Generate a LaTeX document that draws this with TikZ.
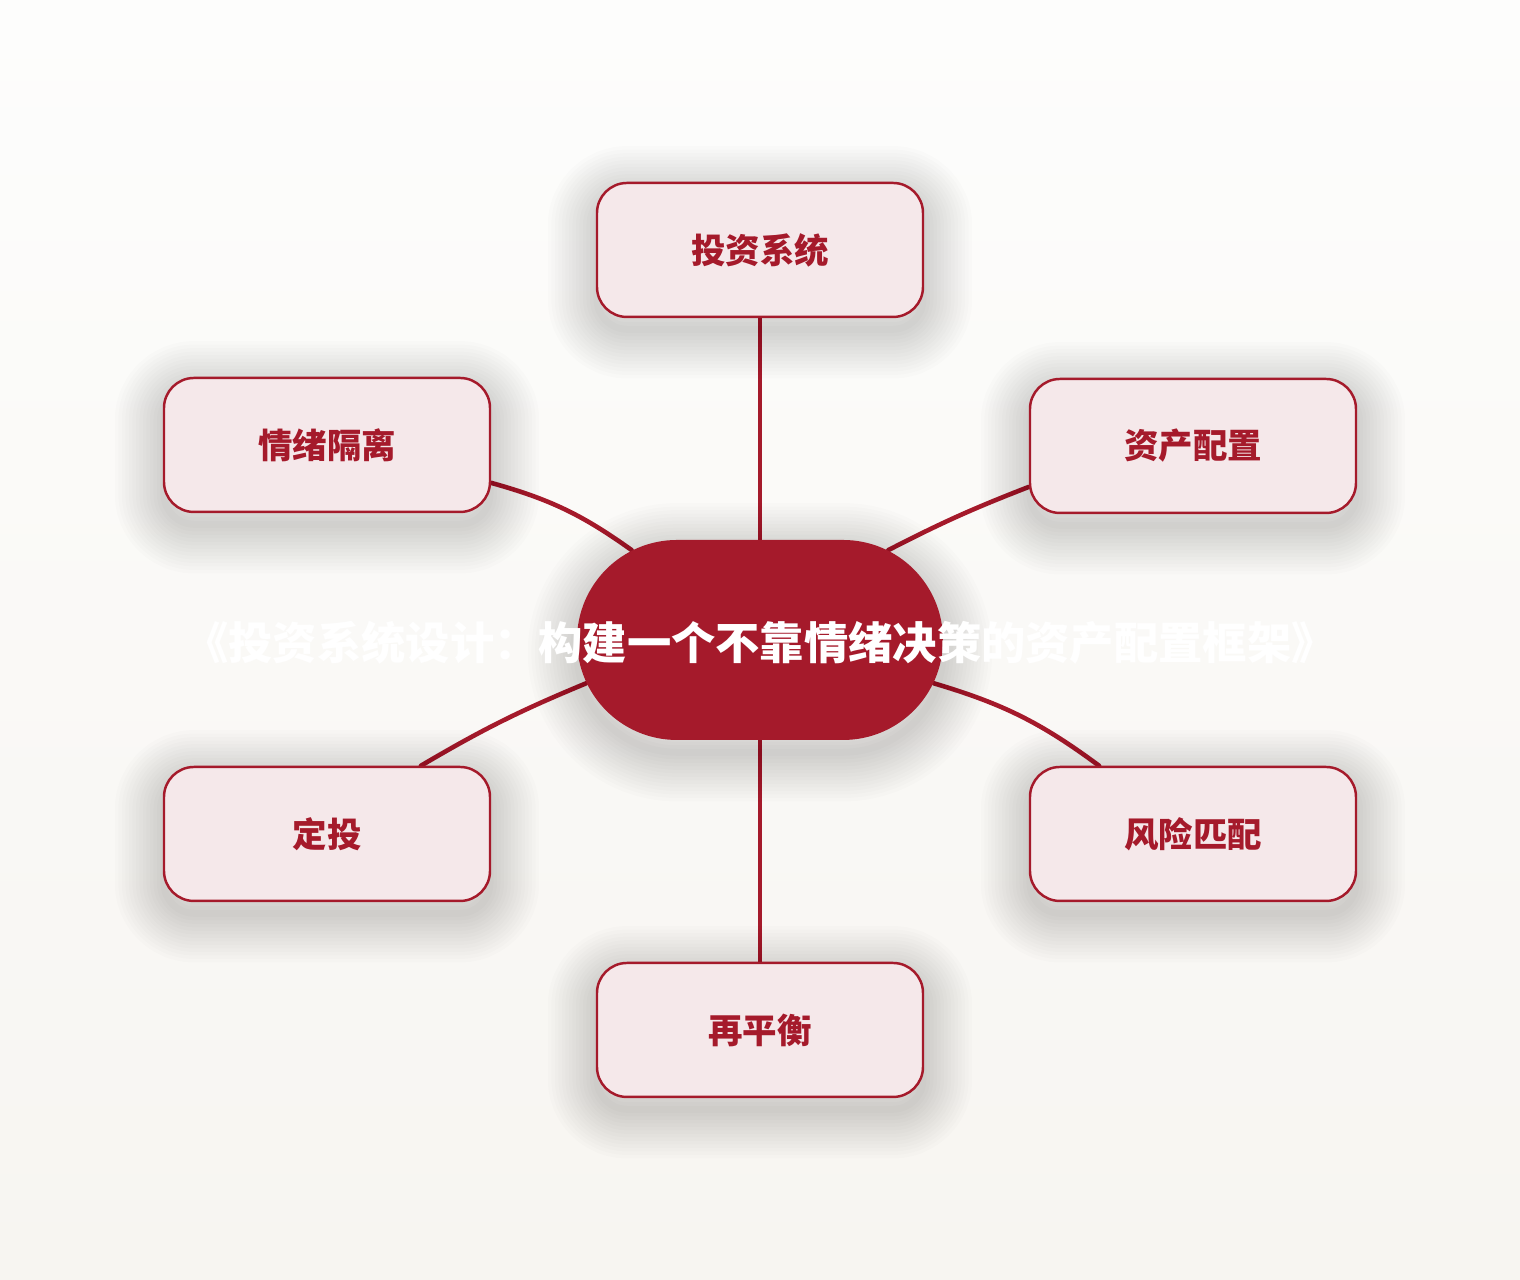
\documentclass[tikz,border=0pt]{standalone}
\usepackage{fontspec}
\newfontfamily\cjk{Noto Sans CJK SC}
\usetikzlibrary{shapes.misc,backgrounds}
\definecolor{rouge}{HTML}{A51A2B}
\definecolor{rose}{HTML}{F5E8EA}
\definecolor{fondhaut}{HTML}{FDFDFC}
\definecolor{fondbas}{HTML}{F7F5F1}

\begin{document}
\begin{tikzpicture}
			\tikzset{ombrepas/.style={preaction={draw=black, draw opacity=0.011, line width=#1, line join=round, transform canvas={yshift=-3.5pt}}},
				ombre/.style={ombrepas=28pt, ombrepas=26pt, ombrepas=24pt, ombrepas=22pt, ombrepas=20pt, ombrepas=18pt, ombrepas=16pt, ombrepas=14pt, ombrepas=12pt, ombrepas=10pt, ombrepas=8pt, ombrepas=6pt, ombrepas=4pt, ombrepas=2pt},
				boite/.style={rectangle, rounded corners=0.3cm, draw=rouge, line width=0.7pt, fill=rose, minimum width=3.26cm, minimum height=1.34cm, text=rouge, font={\cjk\bfseries\fontsize{9.8pt}{12pt}\selectfont}, ombre},
				noyau/.style={rounded rectangle, fill=rouge, minimum width=3.66cm, minimum height=2cm, inner sep=0pt, ombre},
				lien/.style={draw=rouge, line width=1.3pt, line cap=round}};

			\node[noyau] (hub) at (7.60, 6.40) {};
			\node[text=white, font={\cjk\bfseries\fontsize{12.6pt}{15pt}\selectfont}] (titre) at (7.60, 6.37) {《投资系统设计：构建一个不靠情绪决策的资产配置框架》};

			\node[boite] (sys)   at ( 7.60, 10.30) {投资系统};
			\node[boite] (emo)   at ( 3.27,  8.35) {情绪隔离};
			\node[boite] (alloc) at (11.93,  8.34) {资产配置};
			\node[boite] (dca)   at ( 3.27,  4.46) {定投};
			\node[boite] (risk)  at (11.93,  4.46) {风险匹配};
			\node[boite] (rebal) at ( 7.60,  2.50) {再平衡};

			\begin{scope}[on background layer]
				\shade[top color=fondhaut, bottom color=fondbas] (0,0) rectangle (15.2,12.8);

				\draw[lien] (hub.north) -- (sys.south);
				\draw[lien] (hub.145) to[bend right=10] (emo.-13);
				\draw[lien] (hub.35) to[bend left=3] (alloc.-166);
				\draw[lien] (hub.-166) to[bend right=4] (dca.36);
				\draw[lien] (hub.-14) to[bend left=10] (risk.144);
				\draw[lien] (hub.south) -- (rebal.north);
			\end{scope}

		\end{tikzpicture}
\end{document}
